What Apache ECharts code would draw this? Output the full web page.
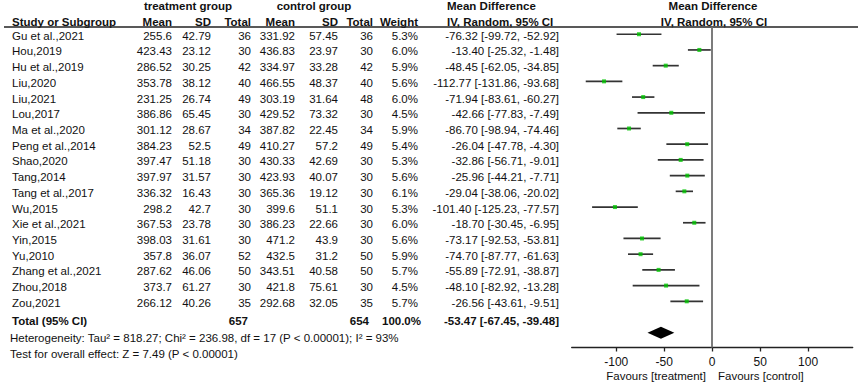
<!DOCTYPE html>
<html>
<head>
<meta charset="utf-8">
<style>
  html, body { margin: 0; padding: 0; background: #fff; }
  #chart { width: 865px; height: 383px; }
</style>
<script src="https://cdn.jsdelivr.net/npm/echarts@6/dist/echarts.min.js"></script>
</head>
<body>
<div id="chart"></div>
<script>
// study rows
const studies = ['Gu et al.,2021', 'Hou,2019', 'Hu et al.,2019', 'Liu,2020', 'Liu,2021', 'Lou,2017',
    'Ma et al.,2020', 'Peng et al.,2014', 'Shao,2020', 'Tang,2014', 'Tang et al.,2017', 'Wu,2015',
    'Xie et al.,2021', 'Yin,2015', 'Yu,2010', 'Zhang et al.,2021', 'Zhou,2018', 'Zou,2021'];
const treatMean = [255.6, 423.43, 286.52, 353.78, 231.25, 386.86, 301.12, 384.23, 397.47, 397.97, 336.32, 298.2,
    367.53, 398.03, 357.8, 287.62, 373.7, 266.12];
const treatSD = [42.79, 23.12, 30.25, 38.12, 26.74, 65.45, 28.67, 52.5, 51.18, 31.57, 16.43, 42.7,
    23.78, 31.61, 36.07, 46.06, 61.27, 40.26];
const treatN = [36, 30, 42, 40, 49, 30, 34, 49, 30, 30, 30, 30, 30, 30, 52, 50, 30, 35];
const ctrlMean = [331.92, 436.83, 334.97, 466.55, 303.19, 429.52, 387.82, 410.27, 430.33, 423.93, 365.36, 399.6,
    386.23, 471.2, 432.5, 343.51, 421.8, 292.68];
const ctrlSD = [57.45, 23.97, 33.28, 48.37, 31.64, 73.32, 22.45, 57.2, 42.69, 40.07, 19.12, 51.1,
    22.66, 43.9, 31.2, 40.58, 75.61, 32.05];
const ctrlN = [36, 30, 42, 40, 48, 30, 34, 49, 30, 30, 30, 30, 30, 30, 50, 50, 30, 35];
const weights = ['5.3%', '6.0%', '5.9%', '5.6%', '6.0%', '4.5%', '5.9%', '5.4%', '5.3%', '5.6%', '6.1%', '5.3%',
    '6.0%', '5.6%', '5.9%', '5.7%', '4.5%', '5.7%'];
const meanDiff = [-76.32, -13.40, -48.45, -112.77, -71.94, -42.66, -86.70, -26.04, -32.86, -25.96, -29.04, -101.40,
    -18.70, -73.17, -74.70, -55.89, -48.10, -26.56];
const ciLow = [-99.72, -25.32, -62.05, -131.86, -83.61, -77.83, -98.94, -47.78, -56.71, -44.21, -38.06, -125.23,
    -30.45, -92.53, -87.77, -72.91, -82.92, -43.61];
const ciHigh = [-52.92, -1.48, -34.85, -93.68, -60.27, -7.49, -74.46, -4.30, -9.01, -7.71, -20.02, -77.57,
    -6.95, -53.81, -61.63, -38.87, -13.28, -9.51];

// pooled result
const totalTreatN = 657;
const totalCtrlN = 654;
const totalWeight = '100.0%';
const totalMD = [-53.47, -67.45, -39.48];
const heterogeneityText = 'Heterogeneity: Tau\u00b2 = 818.27; Chi\u00b2 = 236.98, df = 17 (P < 0.00001); I\u00b2 = 93%';
const overallText = 'Test for overall effect: Z = 7.49 (P < 0.00001)';

const xTicks = [-100, -50, 0, 50, 100];

// layout
const FONT = '"Liberation Sans", Arial, sans-serif';
const FS = 11.5;
const TXT = '#111';
const COLS = [172, 211, 251, 295, 338, 373, 418, 559];   // right edges of numeric columns
const TOTAL_ROW = 18.15;
const DIAMOND_ROW = 19;

const chart = echarts.init(document.getElementById('chart'), null, { renderer: 'svg' });

function fmtCI(m, lo, hi) {
    return m.toFixed(2) + ' [' + lo.toFixed(2) + ', ' + hi.toFixed(2) + ']';
}

function txt(text, x, y, align, bold) {
    return {
        type: 'text',
        style: {
            text: text, x: x, y: y,
            align: align, verticalAlign: 'middle',
            fontSize: FS, fontFamily: FONT, fontWeight: bold ? 'bold' : 'normal',
            fill: TXT
        }
    };
}

function gtext(text, x, y, align, bold) {
    return {
        type: 'text',
        silent: true,
        style: {
            text: text, x: x, y: y,
            textAlign: align, textVerticalAlign: 'middle',
            align: align, verticalAlign: 'middle',
            font: (bold ? 'bold ' : '') + FS + 'px ' + FONT,
            fill: TXT
        }
    };
}

// table rows, placed on the forest plot's y scale
function renderTableRow(params, api) {
    const i = params.dataIndex;
    const y = api.coord([0, i])[1] + 1.5;
    const vals = [treatMean[i], treatSD[i], treatN[i], ctrlMean[i], ctrlSD[i], ctrlN[i], weights[i],
        fmtCI(meanDiff[i], ciLow[i], ciHigh[i])];
    const children = [txt(studies[i], 12, y, 'left', false)];
    vals.forEach(function (v, k) {
        children.push(txt(String(v), COLS[k], y, 'right', false));
    });
    return { type: 'group', children: children };
}

function renderTotalRow(params, api) {
    const y = api.coord([0, TOTAL_ROW])[1] + 1.5;
    return {
        type: 'group',
        children: [
            txt('Total (95% CI)', 12, y, 'left', true),
            txt(String(totalTreatN), 248, y, 'right', true),
            txt(String(totalCtrlN), 369, y, 'right', true),
            txt(totalWeight, 421, y, 'right', true),
            txt(fmtCI(totalMD[0], totalMD[1], totalMD[2]), 559, y, 'right', true)
        ]
    };
}

function renderCI(params, api) {
    const row = api.value(2);
    const p0 = api.coord([api.value(0), row]);
    const p1 = api.coord([api.value(1), row]);
    return {
        type: 'line',
        shape: { x1: p0[0], y1: p0[1], x2: p1[0], y2: p1[1] },
        style: { stroke: '#333', lineWidth: 1.7 }
    };
}

function renderDiamond(params, api) {
    const row = api.value(3);
    const c = api.coord([api.value(0), row]);
    const lo = api.coord([api.value(1), row]);
    const hi = api.coord([api.value(2), row]);
    const h = 6;
    return {
        type: 'polygon',
        shape: { points: [[lo[0], c[1]], [c[0], c[1] - h], [hi[0], c[1]], [c[0], c[1] + h]] },
        style: { fill: '#000' }
    };
}

const option = {
    animation: false,
    backgroundColor: '#fff',
    grid: {
        left: 571.7, top: 27, width: 281, height: 320.5,
        containLabel: false, outerBoundsMode: 'none'
    },
    xAxis: {
        type: 'value',
        min: -146.5, max: 146.5,
        splitLine: { show: false },
        axisLine: { onZero: false, lineStyle: { color: '#222', width: 1.3 } },
        axisTick: { customValues: xTicks, length: 4, lineStyle: { color: '#222', width: 1.3 } },
        axisLabel: {
            customValues: xTicks, margin: 8,
            fontSize: FS + 0.5, fontFamily: FONT, color: TXT
        }
    },
    yAxis: {
        type: 'value', inverse: true, min: -0.46, max: 19.94, show: false
    },
    graphic: [
        gtext('treatment group', 188, 6, 'center', true),
        gtext('control group', 314, 6, 'center', true),
        gtext('Mean Difference', 447, 6, 'left', true),
        gtext('Mean Difference', 713, 6, 'center', true),
        gtext('Study or Subgroup', 12, 21.5, 'left', true),
        gtext('Mean', COLS[0], 21.5, 'right', true),
        gtext('SD', COLS[1], 21.5, 'right', true),
        gtext('Total', COLS[2], 21.5, 'right', true),
        gtext('Mean', COLS[3], 21.5, 'right', true),
        gtext('SD', COLS[4], 21.5, 'right', true),
        gtext('Total', COLS[5], 21.5, 'right', true),
        gtext('Weight', COLS[6], 21.5, 'right', true),
        gtext('IV, Random, 95% CI', 447, 21.5, 'left', true),
        gtext('IV, Random, 95% CI', 714, 21.5, 'center', true),
        {
            type: 'line', silent: true,
            shape: { x1: 4, y1: 27, x2: 858, y2: 27 },
            style: { stroke: '#222', lineWidth: 1.3 }
        },
        gtext(heterogeneityText, 10, 338, 'left', false),
        gtext(overallText, 10, 354, 'left', false),
        gtext('Favours [treatment]', 706, 376, 'right', false),
        gtext('Favours [control]', 718, 376, 'left', false)
    ],
    series: [
        {
            type: 'custom',
            renderItem: renderTableRow,
            data: studies.map(function (s, i) { return [0, i]; }),
            silent: true
        },
        {
            type: 'custom',
            renderItem: renderTotalRow,
            data: [[0, TOTAL_ROW]],
            silent: true
        },
        {
            type: 'custom',
            renderItem: renderCI,
            encode: { x: [0, 1], y: 2 },
            data: ciLow.map(function (lo, i) { return [lo, ciHigh[i], i]; }),
            silent: true
        },
        {
            type: 'scatter',
            symbol: 'rect',
            symbolSize: 4,
            itemStyle: { color: '#00c400' },
            data: meanDiff.map(function (m, i) { return [m, i]; }),
            z: 5,
            silent: true,
            markLine: {
                silent: true,
                symbol: 'none',
                label: { show: false },
                lineStyle: { color: '#6e6e6e', width: 1.8, type: 'solid' },
                data: [{ xAxis: 0 }]
            }
        },
        {
            type: 'custom',
            renderItem: renderDiamond,
            encode: { x: [0, 1, 2], y: 3 },
            data: [[totalMD[0], totalMD[1], totalMD[2], DIAMOND_ROW]],
            silent: true
        }
    ]
};

chart.setOption(option);
</script>
</body>
</html>
